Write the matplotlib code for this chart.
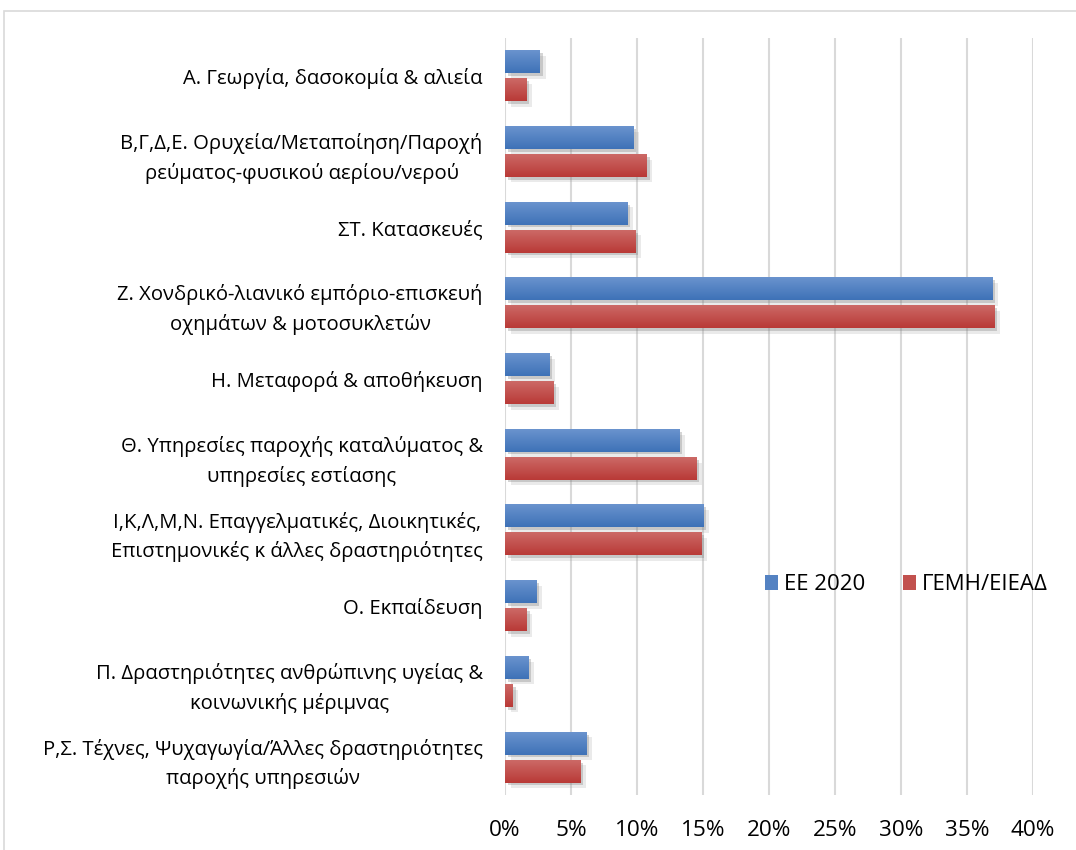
import numpy as np
import matplotlib.pyplot as plt
import matplotlib.patheffects as pe
from matplotlib.colors import LinearSegmentedColormap
from matplotlib.patches import Rectangle, Patch

plt.rcParams['font.family'] = ['Open Sans', 'DejaVu Sans']

categories = [
    "Α. Γεωργία, δασοκομία & αλιεία",
    "Β,Γ,Δ,Ε. Ορυχεία/Μεταποίηση/Παροχή\nρεύματος-φυσικού αερίου/νερού",
    "ΣΤ. Κατασκευές",
    "Ζ. Χονδρικό-λιανικό εμπόριο-επισκευή\nοχημάτων & μοτοσυκλετών",
    "Η. Μεταφορά & αποθήκευση",
    "Θ. Υπηρεσίες παροχής καταλύματος &\nυπηρεσίες εστίασης",
    "Ι,Κ,Λ,Μ,Ν. Επαγγελματικές, Διοικητικές,\nΕπιστημονικές κ άλλες δραστηριότητες",
    "Ο. Εκπαίδευση",
    "Π. Δραστηριότητες ανθρώπινης υγείας &\nκοινωνικής μέριμνας",
    "Ρ,Σ. Τέχνες, Ψυχαγωγία/Άλλες δραστηριότητες\nπαροχής υπηρεσιών",
]
ee2020 = [2.65, 9.7, 9.25, 36.9, 3.35, 13.2, 15.05, 2.35, 1.75, 6.15]
gemi = [1.6, 10.75, 9.85, 37.05, 3.65, 14.5, 14.9, 1.65, 0.6, 5.7]
series_names = ["ΕΕ 2020", "ΓΕΜΗ/ΕΙΕΑΔ"]
x_ticks = [0, 5, 10, 15, 20, 25, 30, 35, 40]

# light top -> dark bottom, like the office gradient fill
blue_cmap = LinearSegmentedColormap.from_list("b", ["#6A93CE", "#3E72B7"])
red_cmap = LinearSegmentedColormap.from_list("r", ["#CC6966", "#B93A37"])

fig = plt.figure(figsize=(10.76, 8.5), dpi=100)
ax = fig.add_axes([0.4693, 0.0647, 0.4907, 0.8906])

y = np.arange(len(categories))
h = 0.30
off = 0.185
grad = np.linspace(0, 1, 64).reshape(-1, 1)
shadow = [pe.SimplePatchShadow(offset=(4, -4), shadow_rgbFace='#999999', alpha=0.2),
          pe.SimplePatchShadow(offset=(2, -2), shadow_rgbFace='#777777', alpha=0.3),
          pe.Normal()]

for vals, sign, cmap in [(ee2020, -1, blue_cmap), (gemi, 1, red_cmap)]:
    yy = y + sign * off
    bars = ax.barh(yy, vals, height=h, color=cmap(0.5), zorder=3)
    for b, v, yc in zip(bars, vals, yy):
        b.set_path_effects(shadow)
        ax.imshow(grad, cmap=cmap, aspect='auto', zorder=4,
                  extent=(0, v, yc + h / 2, yc - h / 2))

ax.set_xlim(0, 40)
ax.set_ylim(len(categories) - 0.5, -0.5)
ax.set_xticks(x_ticks)
ax.set_xticklabels([f"{t}%" for t in x_ticks])
ax.set_yticks(y)
ax.set_yticklabels(categories)
for lbl in ax.get_yticklabels():
    lbl.set_multialignment('center')
    lbl.set_linespacing(1.55)
ax.tick_params(axis='both', length=0, colors='#000000')
ax.tick_params(axis='y', pad=16, labelsize=14.6)
ax.tick_params(axis='x', pad=18, labelsize=16.2)
ax.grid(axis='x', color='#D9D9D9', linewidth=1.5, zorder=0)
ax.set_axisbelow(True)
for s in ax.spines.values():
    s.set_visible(False)

handles = [Patch(facecolor=blue_cmap(0.5)), Patch(facecolor=red_cmap(0.5))]
fig.legend(handles, series_names, loc='center', bbox_to_anchor=(0.842, 0.312),
           ncol=2, frameon=False, fontsize=16, handlelength=0.6,
           handleheight=0.6, handletextpad=0.25, columnspacing=1.7)

fig.add_artist(Rectangle((4 / 1076, -0.1), 2, 0.1 + 1 - 10.5 / 850,
                         transform=fig.transFigure, fill=False,
                         edgecolor='#D9D9D9', linewidth=1.2))

fig.savefig("out.png", dpi=100)
